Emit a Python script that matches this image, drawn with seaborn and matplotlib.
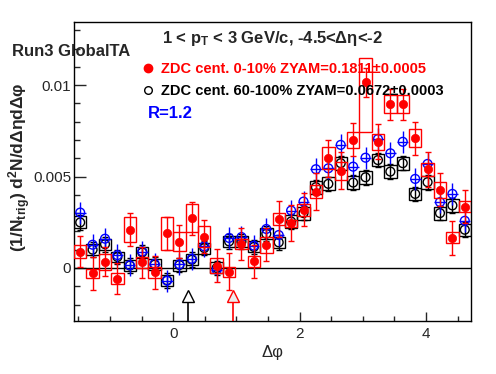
import numpy as np
import pandas as pd
import matplotlib
matplotlib.use('Agg')
import matplotlib.pyplot as plt
import seaborn as sns
from matplotlib.lines import Line2D
from matplotlib.ticker import MultipleLocator

# delta-phi bins: 32 bins over [-pi/2, 3pi/2]
nbins = 32
bin_w = 2*np.pi/nbins
dphi = -np.pi/2 + (np.arange(nbins)+0.5)*bin_w

# ZDC cent. 0-10%
y_cent = [0.00089, -0.0003, 0.00034, -0.00058, 0.0021, 0.0003, -0.00024, 0.00189,
          0.00144, 0.00273, 0.00172, 0.00013, -0.0002, 0.00131, 0.00036, 0.00127,
          0.00267, 0.00245, 0.00318, 0.00418, 0.006, 0.00532, 0.007, 0.01016,
          0.0069, 0.00895, 0.00895, 0.0071, 0.0054, 0.00427, 0.00164, 0.00336]
err_cent = [0.00085, 0.00088, 0.0008, 0.00087, 0.0009, 0.00086, 0.0009, 0.0009,
            0.0009, 0.0009, 0.0009, 0.0009, 0.001, 0.0009, 0.0009, 0.0009,
            0.001, 0.001, 0.0009, 0.001, 0.001, 0.001, 0.0009, 0.0008,
            0.00095, 0.00085, 0.00085, 0.0009, 0.00095, 0.0009, 0.00095, 0.0009]
sys_cent_up = [0.00036, 0.00025, 0.00043, 0.0003, 0.00068, 0.00032, 0.0003, 0.0009,
               0.0005, 0.00077, 0.0006, 0.0004, 0.00027, 0.0003, 0.0003, 0.00044,
               0.00034, 0.0002, 0.00034, 0.00035, 0.0006, 0.0005, 0.00043, 0.0013,
               0.00045, 0.0005, 0.0005, 0.00048, 0.00036, 0.00044, 0.0003, 0.00032]
sys_cent_dn = [0.00036, 0.00025, 0.00043, 0.0003, 0.00068, 0.00032, 0.0003, 0.0009,
               0.0005, 0.00077, 0.0006, 0.0004, 0.00027, 0.0003, 0.0003, 0.00044,
               0.00034, 0.0002, 0.00034, 0.00035, 0.0006, 0.0005, 0.00043, 0.0027,
               0.00045, 0.0005, 0.0005, 0.00048, 0.00036, 0.00044, 0.0003, 0.00032]

# ZDC cent. 60-100%
y_periph = [0.00249, 0.001, 0.0013, 0.0006, 0.00013, 0.00085, 0.00018, -0.00067,
            0.00016, 0.00045, 0.00109, 0.0, 0.00145, 0.00145, 0.00115, 0.00187,
            0.0014, 0.00254, 0.003, 0.00442, 0.0046, 0.00573, 0.00467, 0.00496,
            0.0059, 0.00527, 0.00573, 0.00405, 0.00469, 0.003, 0.00342, 0.00209]
err_periph = [0.0004]*nbins
sys_periph = [0.00033, 0.0003, 0.0003, 0.0003, 0.0003, 0.0003, 0.0003, 0.0003,
              0.0003, 0.0003, 0.0003, 0.0003, 0.0003, 0.0003, 0.0003, 0.0003,
              0.00032, 0.00033, 0.00035, 0.00035, 0.00035, 0.00035, 0.00035, 0.00035,
              0.00035, 0.00035, 0.00035, 0.00035, 0.00035, 0.00035, 0.00035, 0.00033]

# peripheral scaled by R=1.2
y_scaled = [0.00303, 0.00127, 0.0016, 0.0007, 0.00015, 0.0009, 0.00023, -0.0007,
            0.0002, 0.0005, 0.00118, -0.0001, 0.00164, 0.00169, 0.00122, 0.00213,
            0.0018, 0.00314, 0.00363, 0.0054, 0.00545, 0.00673, 0.00554, 0.00603,
            0.00705, 0.00627, 0.0069, 0.00487, 0.00569, 0.0036, 0.00405, 0.00258]
err_scaled = [0.0006]*nbins

# ZYAM minimum positions
zyam_x = [0.23, 0.94]
zyam_col = ['black', 'red']
zyam_fill = ['white', '#ececec']

df = pd.DataFrame({'dphi': dphi, 'cent': y_cent, 'periph': y_periph, 'scaled': y_scaled})

sns.set_style('ticks')
plt.rcParams['font.family'] = ['Liberation Sans', 'DejaVu Sans']
plt.rcParams['mathtext.fontset'] = 'custom'
plt.rcParams['mathtext.rm'] = 'Liberation Sans:bold'
plt.rcParams['mathtext.it'] = 'Liberation Sans:bold'
plt.rcParams['mathtext.bf'] = 'Liberation Sans:bold'

fig = plt.figure(figsize=(4.96, 3.74), dpi=100)
ax = fig.add_axes([74/496, 1-321/374, 397/496, 299/374])

# systematic boxes, peripheral
ax.bar(df['dphi'], 2*np.array(sys_periph), bottom=df['periph']-np.array(sys_periph), width=bin_w,
       fill=False, edgecolor='black', linewidth=1, zorder=2)
ax.errorbar(df['dphi'], df['periph'], yerr=err_periph, fmt='none', ecolor='black', elinewidth=1,
            capsize=2.5, capthick=1, zorder=3)
sns.scatterplot(data=df, x='dphi', y='periph', marker='o', s=40, facecolor='none', edgecolor='black',
                linewidth=1, ax=ax, zorder=4)

# scaled peripheral
ax.errorbar(df['dphi'], df['scaled'], yerr=err_scaled, xerr=bin_w/2*0.9, fmt='none', ecolor='blue',
            elinewidth=1, capsize=0, zorder=5)
sns.scatterplot(data=df, x='dphi', y='scaled', marker='o', s=40, facecolor='none', edgecolor='blue',
                linewidth=1, ax=ax, zorder=6)

# central
sys_up = np.array(sys_cent_up)
sys_dn = np.array(sys_cent_dn)
ax.bar(df['dphi'], sys_up+sys_dn, bottom=df['cent']-sys_dn, width=bin_w,
       fill=False, edgecolor='red', linewidth=1, zorder=7)
ax.errorbar(df['dphi'], df['cent'], yerr=err_cent, fmt='none', ecolor='red', elinewidth=1,
            capsize=2.5, capthick=1, zorder=8)
sns.scatterplot(data=df, x='dphi', y='cent', marker='o', s=36, color='red', edgecolor='red',
                linewidth=0.5, ax=ax, zorder=9)

ax.axhline(0, color='black', linewidth=1, zorder=1)

ylo = -0.0029
for xz, c, f in zip(zyam_x, zyam_col, zyam_fill):
    ax.plot([xz, xz], [ylo, -0.00184], color=c, linewidth=1.2, zorder=10)
    ax.plot([xz], [-0.00152], marker='^', markersize=9, markerfacecolor=f, markeredgecolor=c,
            markeredgewidth=1, linestyle='none', zorder=11)

ax.set_xlim(-np.pi/2, 3*np.pi/2)
ax.set_ylim(ylo, 0.01345)
ax.set_xticks([0, 2, 4])
ax.set_yticks([0, 0.005, 0.01])
ax.set_yticklabels(['0', '0.005', '0.01'])
ax.xaxis.set_minor_locator(MultipleLocator(0.5))
ax.yaxis.set_minor_locator(MultipleLocator(0.001))
ax.tick_params(axis='y', which='major', direction='in', length=8.6, width=1, labelsize=11, pad=2)
ax.tick_params(axis='y', which='minor', direction='in', length=4.3, width=1)
ax.tick_params(axis='x', which='major', direction='in', length=6.3, width=1, labelsize=11, pad=4)
ax.tick_params(axis='x', which='minor', direction='in', length=3.6, width=1)
for sp in ax.spines.values():
    sp.set_linewidth(1)
    sp.set_color('black')
ax.set_xlabel('')
ax.set_ylabel('')

fig.text(20/496, 1-167/374, r'(1/N$_{\mathrm{trig}}$) d$^{2}$N/dΔηdΔφ', rotation=90,
         ha='center', va='center', fontsize=12.5, fontweight='bold')
fig.text(272/496, 1-352/374, 'Δφ', ha='center', va='center', fontsize=12)

fig.text(12/496, 1-56/374, 'Run3 GlobalTA', ha='left', va='baseline', fontsize=12, fontweight='bold')
fig.text(162/496, 1-43/374, r'1 < p$_{\mathrm{T}}$ < 3 GeV/c, -4.5<Δη<-2', ha='left', va='baseline',
         fontsize=12, fontweight='bold')
fig.add_artist(Line2D([148/496], [1-68/374], marker='o', markersize=6, color='red', linestyle='none'))
fig.text(161/496, 1-73/374, 'ZDC cent. 0-10% ZYAM=0.1811±0.0005', ha='left', va='baseline',
         fontsize=10.5, fontweight='bold', color='red')
fig.add_artist(Line2D([148/496], [1-90/374], marker='o', markersize=5.5, markerfacecolor='white',
                      markeredgecolor='black', markeredgewidth=1, linestyle='none'))
fig.text(161/496, 1-95/374, 'ZDC cent. 60-100% ZYAM=0.0672±0.0003', ha='left', va='baseline',
         fontsize=10.5, fontweight='bold', color='black')
fig.text(148/496, 1-118/374, 'R=1.2', ha='left', va='baseline', fontsize=12, fontweight='bold', color='blue')

fig.savefig('out.png', dpi=100)
